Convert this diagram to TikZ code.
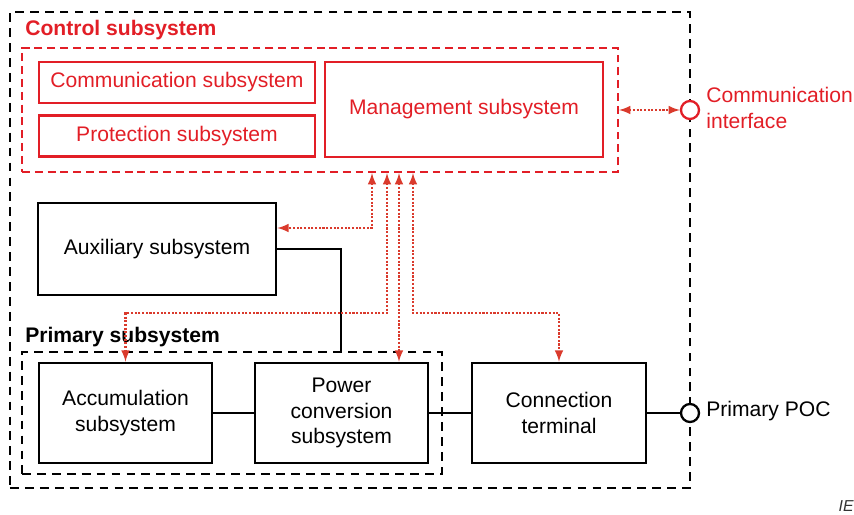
\documentclass[tikz,border=0pt]{standalone}
\usepackage{fontspec}
\setmainfont{Liberation Sans}
\usetikzlibrary{shapes,arrows}
\usetikzlibrary{calc}
\definecolor{ctrlred}{RGB}{226,30,38}
\definecolor{linkred}{RGB}{218,58,44}
\tikzset{
	>=latex,
	block/.style={draw, line width=1.5pt, align=center, inner sep=0pt},
	redblock/.style={block, draw=ctrlred, text=ctrlred, line width=1.2pt},
	frame/.style={draw, line width=1.4pt, dash pattern=on 5pt off 3.5pt, inner sep=0pt},
	redframe/.style={frame, draw=ctrlred, line width=1.2pt, dash pattern=on 4.5pt off 2.8pt},
	link/.style={draw=linkred, line width=1.2pt, dash pattern=on 1.2pt off 0.9pt},
	port/.style={circle, draw, fill=white, line width=1.3pt, minimum size=0.36cm, inner sep=0pt},
	heading/.style={anchor=west, inner sep=0pt, font=\fontsize{12}{14.7}\selectfont\bfseries}
}
\begin{document}
\begin{tikzpicture}[font=\fontsize{12}{14.7}\selectfont]
			\useasboundingbox (0,0) rectangle (17.08,10.30);
			\node [frame, minimum width=13.6cm, minimum height=9.52cm] (sys) at (7.00,5.30) {};
			% control part
			\node [redframe, minimum width=11.92cm, minimum height=2.48cm] (ctrl) at (6.40,8.10) {};
			\node [heading, text=ctrlred] (ctrllbl) at (0.50,9.70) {Control subsystem};
			\node [redblock, minimum width=5.52cm, minimum height=0.82cm] (comm) at (3.54,8.65) {Communication subsystem};
			\node [redblock, minimum width=5.52cm, minimum height=0.82cm] (prot) at (3.54,7.58) {Protection subsystem};
			\node [redblock, minimum width=5.56cm, minimum height=1.90cm] (mgmt) at (9.28,8.11) {Management subsystem};
			\node [port, draw=ctrlred] (ci) at (13.80,8.10) {};
			\node [anchor=west, align=left, inner sep=0pt, text=ctrlred] (cilbl) at (14.12,8.14) {Communication\\interface};
			\draw [link, <->] (ctrl.east) -- (ci.west);
			% auxiliary and primary part
			\node [block, minimum width=4.76cm, minimum height=1.84cm] (aux) at (3.14,5.32) {Auxiliary subsystem};
			\node [heading] (primlbl) at (0.50,3.56) {Primary subsystem};
			\node [frame, minimum width=8.40cm, minimum height=2.44cm] (prim) at (4.64,2.04) {};
			\node [block, minimum width=3.46cm, minimum height=2.00cm] (acc) at (2.51,2.04) {Accumulation\\subsystem};
			\node [block, minimum width=3.46cm, minimum height=2.00cm] (pcs) at (6.83,2.04) {Power\\conversion\\subsystem};
			\node [block, minimum width=3.48cm, minimum height=2.00cm] (term) at (11.18,2.04) {Connection\\terminal};
			\node [port] (poc) at (13.80,2.04) {};
			\node [anchor=west, inner sep=0pt] (poclbl) at (14.12,2.08) {Primary POC};
			\draw [line width=1.5pt] (acc) -- (pcs);
			\draw [line width=1.5pt] (pcs) -- (term);
			\draw [line width=1.5pt] (term) -- (poc);
			\draw [line width=1.5pt] (aux.east) -| ($(prim.north)+(2.18,0)$);
			% control links
			\coordinate (m1) at ($(ctrl.south)+(1.04,0)$);
			\coordinate (m2) at ($(ctrl.south)+(1.34,0)$);
			\coordinate (m3) at ($(ctrl.south)+(1.58,0)$);
			\coordinate (m4) at ($(ctrl.south)+(1.86,0)$);
			\draw [link, <->] (m1) |- ($(aux.east)+(0,0.42)$);
			\draw [link, <->] (m2) -- ++(0,-2.80) -| (acc.north);
			\draw [link, <->] (m3) -- (m3 |- pcs.north);
			\draw [link, <->] (m4) -- ++(0,-2.80) -| (term.north);
			\node [anchor=south east, inner sep=0pt, text=black!80, font=\itshape\fontsize{9}{9}\selectfont] (credit) at (17.08,0.06) {IE};
		\end{tikzpicture}
\end{document}
